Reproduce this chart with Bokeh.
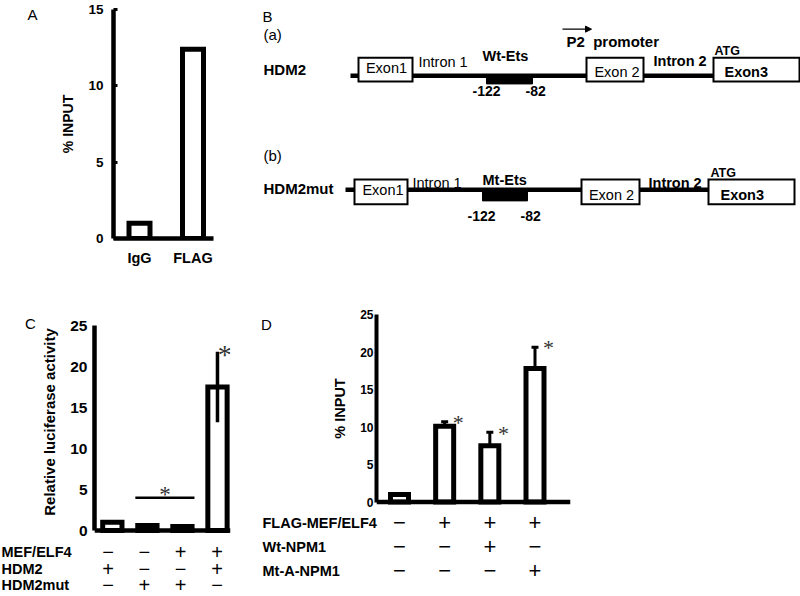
from bokeh.plotting import figure
from bokeh.models import (Range1d, FixedTicker, Span, Whisker, ColumnDataSource,
                          TeeHead, Arrow, NormalHead)
from bokeh.layouts import row, column
from bokeh.embed import file_html
from bokeh.resources import INLINE
from bokeh.core.properties import value

SANS = "Liberation Sans"
SERIF = "Liberation Serif"

# ---------------- data ----------------
a_categories = ["IgG", "FLAG"]
a_values = [1.0, 12.4]
a_ticks = [0, 5, 10, 15]

c_values = [1.0, 0.6, 0.5, 17.5]
c_errors = [0.0, 0.0, 0.0, 4.3]
c_starred = [False, False, False, True]
c_bracket = (2, 3)
c_bracket_level = 4.0
c_row_labels = ["MEF/ELF4", "HDM2", "HDM2mut"]
c_signs = [["−", "−", "+", "+"],
           ["+", "−", "−", "+"],
           ["−", "+", "+", "−"]]
c_ticks = [0, 5, 10, 15, 20, 25]

d_values = [1.0, 10.1, 7.5, 17.8]
d_errors = [0.0, 0.6, 1.8, 2.85]
d_starred = [False, True, True, True]
d_row_labels = ["FLAG-MEF/ELF4", "Wt-NPM1", "Mt-A-NPM1"]
d_signs = [["−", "+", "+", "+"],
           ["−", "−", "+", "−"],
           ["−", "−", "−", "+"]]
d_ticks = [0, 5, 10, 15, 20, 25]

# schematic (B): feature extents along the drawing
b_tags = ["(a)", "(b)"]
b_constructs = ["HDM2", "HDM2mut"]
b_ets_labels = ["Wt-Ets", "Mt-Ets"]
b_exon_labels = ["Exon1", "Exon 2", "Exon3"]
b_site_labels = ["-122", "-82"]
b_line_start = [350, 345]
b_exon_start = [[358, 586, 713], [354, 581, 708]]
b_exon_end = [[412, 643, 799], [407, 639, 794]]
b_ets_start = [486, 482]
b_ets_end = [532, 527]

# ---------------- layout helpers ----------------
TOP_H = 280
BOT_H = 596 - TOP_H


def base(W, H, xr, yr, left=0, right=0, top=0, bottom=0, xaxis=False, yaxis=False):
    p = figure(width=W, height=H, x_range=xr, y_range=yr,
               x_axis_type="linear" if xaxis else None,
               y_axis_type="linear" if yaxis else None,
               output_backend="svg", toolbar_location=None,
               min_border_left=left, min_border_right=right,
               min_border_top=top, min_border_bottom=bottom)
    p.outline_line_color = None
    p.grid.visible = False
    p.background_fill_color = "white"
    p.border_fill_color = "white"
    return p


def style_yaxis(ax, ticks, label, tick_size, label_size, standoff, label_standoff,
                tick_in=0, tick_out=0, lw=4.5):
    ax.ticker = FixedTicker(ticks=ticks)
    ax.axis_line_width = lw
    ax.axis_line_color = "black"
    ax.major_tick_in = tick_in
    ax.major_tick_out = tick_out
    ax.major_tick_line_width = 3
    ax.major_tick_line_color = "black"
    ax.minor_tick_line_color = None
    ax.major_label_text_font = SANS
    ax.major_label_text_font_size = tick_size
    ax.major_label_text_font_style = "bold"
    ax.major_label_text_color = "black"
    ax.major_label_standoff = standoff
    ax.axis_label = label
    ax.axis_label_text_font = SANS
    ax.axis_label_text_font_size = label_size
    ax.axis_label_text_font_style = "bold"
    ax.axis_label_text_color = "black"
    ax.axis_label_standoff = label_standoff


def texts(p, xs, ys, txt, size="14px", style="normal", align="left", font=SANS,
          yoff=0, color="black"):
    p.text(x=xs, y=ys, text=txt, text_font=value(font), text_font_size=size,
           text_font_style=style, text_align=align, text_baseline="middle",
           text_color=color, y_offset=yoff)


def letter_fig(W, H, x, y, txt):
    p = base(W, H, Range1d(0, W), Range1d(H, 0))
    texts(p, [x], [y], [txt], size="15px", align="center")
    return p


# ================= Panel A =================
A_LEFT = 50
A_W = 240 - A_LEFT
a_frame = dict(left=113, right=213, top=9, bottom=238)
a_ppx = 192.5 - 139
a_x0 = 1 - (139 - a_frame["left"]) / a_ppx
a_x1 = a_x0 + (a_frame["right"] - a_frame["left"]) / a_ppx
pa = base(A_W, TOP_H, Range1d(a_x0, a_x1), Range1d(0, 15),
          left=a_frame["left"] - A_LEFT, right=240 - a_frame["right"],
          top=a_frame["top"], bottom=TOP_H - a_frame["bottom"], xaxis=True, yaxis=True)
a_x = list(range(1, len(a_categories) + 1))
pa.vbar(x=a_x, top=a_values, bottom=0, width=(26 - 5) / a_ppx,
        fill_color="white", line_color="black", line_width=5, line_join="miter")
style_yaxis(pa.yaxis[0], a_ticks, "% INPUT", "13.5px", "14px", 10, 9, tick_in=4)
xa = pa.xaxis[0]
xa.ticker = FixedTicker(ticks=a_x)
xa.major_label_overrides = {k: v for k, v in zip(a_x, a_categories)}
xa.axis_line_width = 4.5
xa.major_tick_in = 0
xa.major_tick_out = 0
xa.minor_tick_line_color = None
xa.major_label_text_font = SANS
xa.major_label_text_font_size = "14.5px"
xa.major_label_text_font_style = "bold"
xa.major_label_text_color = "black"
xa.major_label_standoff = 11
la = letter_fig(A_LEFT, TOP_H, 32, 6, "A")

# ================= Panel B =================
pb = base(560, TOP_H, Range1d(240, 800), Range1d(TOP_H, 0))
b_line_y = [81, 220.5]
b_box_top = [59, 208]
b_box_bot = [88, 238]
b_ets_top = [80, 221]
b_ets_bot = [91, 234]
for i in range(2):
    pb.segment(x0=[b_line_start[i]], y0=[b_line_y[i]], x1=[b_exon_start[i][2]],
               y1=[b_line_y[i]], line_width=4.5, line_color="black")
    pb.quad(left=[b_ets_start[i]], right=[b_ets_end[i]], top=[b_ets_top[i]],
            bottom=[b_ets_bot[i]], fill_color="black", line_color="black")
    pb.quad(left=b_exon_start[i], right=b_exon_end[i], top=[b_box_top[i]] * 3,
            bottom=[b_box_bot[i]] * 3, fill_color="white", line_color="black",
            line_width=2, line_join="miter")

texts(pb, [262], [8], ["B"], size="15px")
texts(pb, [263, 263], [30, 179], b_tags, size="15px")
texts(pb, [263, 263], [73, 219], b_constructs, size="15px", style="bold")
texts(pb, [(b_exon_start[0][0] + b_exon_end[0][0]) / 2 + 1,
           (b_exon_start[1][0] + b_exon_end[1][0]) / 2 + 2],
      [72, 221], [b_exon_labels[0]] * 2, size="14.5px", align="center")
texts(pb, [(b_exon_start[0][1] + b_exon_end[0][1]) / 2 + 2,
           (b_exon_start[1][1] + b_exon_end[1][1]) / 2 + 1],
      [77, 227], [b_exon_labels[1]] * 2, size="14.5px", align="center")
texts(pb, [724, 720], [77, 227], [b_exon_labels[2]] * 2, size="14.5px", style="bold")
texts(pb, [418, 412], [64, 212], ["Intron 1"] * 2, size="14.5px")
texts(pb, [653, 648], [63, 212], ["Intron 2"] * 2, size="14.5px", style="bold")
texts(pb, [482, 482], [57, 208], b_ets_labels, size="14.5px", style="bold")
texts(pb, [714, 710], [51, 200], ["ATG"] * 2, size="12.5px", style="bold")
texts(pb, [472, 525, 467, 520], [100, 100, 253, 253], b_site_labels * 2,
      size="14px", style="bold")
texts(pb, [566], [39], ["P2\u00a0\u00a0promoter"], size="15px", style="bold")
pb.add_layout(Arrow(end=NormalHead(size=6, fill_color="black", line_color="black", line_width=1),
                    x_start=562, y_start=24, x_end=591, y_end=24,
                    line_width=1.2, line_color="black"))

# ================= Panel C =================
C_LETTER_W = 38
C_CHART_BOTTOM = 539
c_frame = dict(left=89, right=230, top=304)
c_y25, c_y0px = 325, 530
c_ppy = (c_y0px - c_y25) / 25
c_ppx = (216.5 - 107.5) / 3
c_x0 = 1 - (107.5 - c_frame["left"]) / c_ppx
c_x1 = c_x0 + (c_frame["right"] - c_frame["left"]) / c_ppx
c_ytop = 25 + (c_y25 - c_frame["top"]) / c_ppy
c_ybot = -(C_CHART_BOTTOM - c_y0px) / c_ppy
C_CH = C_CHART_BOTTOM - TOP_H
pc = base(255 - C_LETTER_W, C_CH, Range1d(c_x0, c_x1), Range1d(c_ybot, c_ytop),
          left=c_frame["left"] - C_LETTER_W, right=255 - c_frame["right"],
          top=c_frame["top"] - TOP_H, bottom=0, yaxis=True)
c_x = list(range(1, len(c_values) + 1))
c_bw = (25 - 5) / c_ppx
pc.vbar(x=c_x, top=c_values, bottom=0, width=c_bw, fill_color="white",
        line_color="black", line_width=5, line_join="miter")
pc.add_layout(Span(location=0, dimension="width", line_width=4.5, line_color="black"))
ex = [x for x, e in zip(c_x, c_errors) if e > 0]
ev = [(v, e) for v, e in zip(c_values, c_errors) if e > 0]
pc.segment(x0=ex, y0=[v - e for v, e in ev], x1=ex, y1=[v + e for v, e in ev],
           line_width=3.5, line_color="black")
half = (c_bw + 5 / c_ppx) / 2
pc.segment(x0=[c_bracket[0] - half], y0=[c_bracket_level], x1=[c_bracket[1] + half],
           y1=[c_bracket_level], line_width=2.5, line_color="black")
sx = [x + 0.21 for x, s in zip(c_x, c_starred) if s]
sy = [v + e + 0.1 for v, e, s in zip(c_values, c_errors, c_starred) if s]
texts(pc, sx, sy, ["*"] * len(sx), size="28px", align="center", font=SERIF, yoff=4,
      color="#333333")
texts(pc, [(c_bracket[0] + c_bracket[1]) / 2], [c_bracket_level + 0.75], ["*"],
      size="23px", align="center", font=SERIF, yoff=3, color="#333333")
style_yaxis(pc.yaxis[0], c_ticks, "Relative luciferase activity", "15.5px", "15px", 7, 9)
pc.yaxis[0].bounds = (0, 25)
lc = letter_fig(C_LETTER_W, C_CH, 30, 301 - TOP_H, "C")

# table under C
C_TH = 596 - C_CHART_BOTTOM
tc = base(255, C_TH, Range1d(1 + (0 - 107.5) / c_ppx, 1 + (255 - 107.5) / c_ppx),
          Range1d(C_TH, 0))
c_row_y = [551 - C_CHART_BOTTOM, 568 - C_CHART_BOTTOM, 584 - C_CHART_BOTTOM]
for j, (lab, signs) in enumerate(zip(c_row_labels, c_signs)):
    texts(tc, [1 + (1 - 107.5) / c_ppx], [c_row_y[j]], [lab], size="14.5px", style="bold")
    texts(tc, c_x, [c_row_y[j]] * len(c_x), signs, size="20px", align="center")

# ================= Panel D =================
D_LEFT = 255
D_LETTER_W = 60
D_CHART_BOTTOM = 509
d_frame = dict(left=376, right=570, top=307)
d_y25, d_y0px = 314, 501.5
d_ppy = (d_y0px - d_y25) / 25
d_ppx = (534.5 - 399) / 3
d_x0 = 1 - (399 - d_frame["left"]) / d_ppx
d_x1 = d_x0 + (d_frame["right"] - d_frame["left"]) / d_ppx
d_ytop = 25 + (d_y25 - d_frame["top"]) / d_ppy
d_ybot = -(D_CHART_BOTTOM - d_y0px) / d_ppy
D_CH = D_CHART_BOTTOM - TOP_H
pd_ = base(800 - D_LEFT - D_LETTER_W, D_CH, Range1d(d_x0, d_x1), Range1d(d_ybot, d_ytop),
           left=d_frame["left"] - D_LEFT - D_LETTER_W, right=800 - d_frame["right"],
           top=d_frame["top"] - TOP_H, bottom=0, yaxis=True)
d_x = list(range(1, len(d_values) + 1))
d_bw = (23 - 5) / d_ppx
pd_.vbar(x=d_x, top=d_values, bottom=0, width=d_bw, fill_color="white",
         line_color="black", line_width=5, line_join="miter")
pd_.add_layout(Span(location=0, dimension="width", line_width=4.5, line_color="black"))
wsrc = ColumnDataSource(dict(
    x=[x for x, e in zip(d_x, d_errors) if e > 0],
    upper=[v + e for v, e in zip(d_values, d_errors) if e > 0],
    lower=[v - e for v, e in zip(d_values, d_errors) if e > 0]))
pd_.add_layout(Whisker(source=wsrc, base="x", upper="upper", lower="lower",
                       line_width=3, line_color="black",
                       upper_head=TeeHead(size=7, line_width=3, line_color="black"),
                       lower_head=TeeHead(size=7, line_width=3, line_color="black")))
sx = [x + 0.3 for x, s in zip(d_x, d_starred) if s]
sy = [v + e + 0.3 for v, e, s in zip(d_values, d_errors, d_starred) if s]
texts(pd_, sx, sy, ["*"] * len(sx), size="22px", align="center", font=SERIF, yoff=3,
      color="#333333")
style_yaxis(pd_.yaxis[0], d_ticks, "% INPUT", "12px", "14.5px", 3, 9, lw=4)
pd_.yaxis[0].bounds = (0, 25)
ld = letter_fig(D_LETTER_W, D_CH, 266 - D_LEFT, 299 - TOP_H, "D")

# table under D
D_TH = 596 - D_CHART_BOTTOM
td = base(800 - D_LEFT, D_TH,
          Range1d(1 + (D_LEFT - 399) / d_ppx, 1 + (800 - 399) / d_ppx), Range1d(D_TH, 0))
d_row_y = [522 - D_CHART_BOTTOM, 546 - D_CHART_BOTTOM, 570 - D_CHART_BOTTOM]
for j, (lab, signs) in enumerate(zip(d_row_labels, d_signs)):
    texts(td, [1 + (262 - 399) / d_ppx], [d_row_y[j]], [lab], size="14.5px", style="bold")
    texts(td, d_x, [d_row_y[j]] * len(d_x), signs, size="22px", align="center")

layout = column(
    row(la, pa, pb),
    row(column(row(lc, pc), tc), column(row(ld, pd_), td)),
)
open("out.html", "w").write(file_html(layout, INLINE))
